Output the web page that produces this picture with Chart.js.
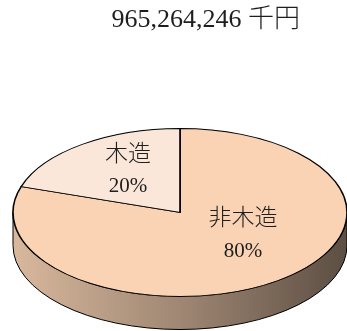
<!DOCTYPE html>
<html lang="ja">
<head>
<meta charset="utf-8">
<script src="https://cdn.jsdelivr.net/npm/chart.js@4.4.1/dist/chart.umd.min.js"></script>
<style>
  html, body { margin: 0; padding: 0; background: #fff; }
  #wrap { width: 347px; height: 331px; position: relative; }
</style>
</head>
<body>
<div id="wrap"><canvas id="structureChart"></canvas></div>
<script>
// share of floor value by structure type (%)
const categories = ['非木造', '木造'];
const shares = [80, 20];
const sliceColors = ['#f9d3b4', '#fbe7d9'];
const totalAmount = 965264246;
const amountUnit = '千円';

const serifFont = "'Liberation Serif', 'Noto Sans CJK JP', serif";

// fake 3D: squash the pie into an ellipse and draw the front rim under it
function shade(hex, k) {
    const n = parseInt(hex.slice(1), 16);
    const r = Math.round(((n >> 16) & 255) * k);
    const g = Math.round(((n >> 8) & 255) * k);
    const b = Math.round((n & 255) * k);
    return 'rgb(' + r + ',' + g + ',' + b + ')';
}

const pie3d = {
    id: 'pie3d',
    beforeDatasetsDraw(chart, args, opts) {
        const ctx = chart.ctx;
        const arcs = chart.getDatasetMeta(0).data;
        const r = arcs[0].outerRadius;
        const ry = r * opts.tilt;
        const cx = opts.centerX, cy = opts.centerY;

        // rim, only the part facing the viewer (angles 0..PI)
        arcs.forEach(function(arc, i) {
            for (let k = -1; k <= 1; k++) {
                const lo = Math.max(arc.startAngle + k * 2 * Math.PI, 0);
                const hi = Math.min(arc.endAngle + k * 2 * Math.PI, Math.PI);
                if (hi <= lo) continue;
                const col = sliceColors[i];
                const grad = ctx.createLinearGradient(cx - r, 0, cx + r, 0);
                grad.addColorStop(0, shade(col, 0.87));
                grad.addColorStop(0.5, shade(col, 0.64));
                grad.addColorStop(1, shade(col, 0.37));
                ctx.save();
                ctx.beginPath();
                ctx.ellipse(cx, cy, r, ry, 0, lo, hi, false);
                ctx.ellipse(cx, cy + opts.depth, r, ry, 0, hi, lo, true);
                ctx.closePath();
                ctx.fillStyle = grad;
                ctx.fill();
                ctx.lineWidth = 1;
                ctx.strokeStyle = '#000';
                ctx.stroke();
                ctx.restore();
            }
        });

        // top face
        ctx.save();
        ctx.translate(cx, cy);
        ctx.scale(1, opts.tilt);
        ctx.translate(-arcs[0].x, -arcs[0].y);
    },
    afterDatasetsDraw(chart, args, opts) {
        const ctx = chart.ctx;
        ctx.restore();

        const arcs = chart.getDatasetMeta(0).data;
        const values = chart.data.datasets[0].data;
        const sum = values.reduce(function(a, b) { return a + b; }, 0);
        ctx.save();
        ctx.fillStyle = '#1e1e1e';
        ctx.textAlign = 'center';
        ctx.textBaseline = 'middle';
        arcs.forEach(function(arc, i) {
            const mid = (arc.startAngle + arc.endAngle) / 2;
            const r = arc.outerRadius * opts.labelRadius;
            const x = opts.centerX + Math.cos(mid) * r + opts.labelShift[i][0];
            const y = opts.centerY + Math.sin(mid) * r * opts.tilt + opts.labelShift[i][1];
            ctx.font = '300 23px ' + serifFont;
            ctx.fillText(chart.data.labels[i], x, y - 16);
            ctx.font = '21px ' + serifFont;
            ctx.fillText(Math.round(values[i] / sum * 100) + '%', x, y + 16);
        });
        ctx.restore();
    }
};

new Chart(document.getElementById('structureChart'), {
    type: 'pie',
    data: {
        labels: categories,
        datasets: [{
            data: shares,
            backgroundColor: sliceColors,
            borderColor: '#000',
            borderWidth: 1.6,
            borderJoinStyle: 'miter',
            radius: 167,
            clip: false
        }]
    },
    plugins: [pie3d],
    options: {
        responsive: true,
        maintainAspectRatio: false,
        animation: false,
        events: [],
        layout: {
            padding: { top: 5, right: 47 }
        },
        plugins: {
            legend: { display: false },
            tooltip: { enabled: false },
            title: {
                display: true,
                text: totalAmount.toLocaleString('en-US') + ' ' + amountUnit,
                align: 'end',
                color: '#1e1e1e',
                font: { family: serifFont, size: 26, weight: 300 },
                padding: { top: 0, bottom: 0 }
            },
            pie3d: {
                centerX: 180,
                centerY: 212.5,
                tilt: 0.503,
                depth: 33,
                labelRadius: 0.6,
                labelShift: [[4, -18], [7, -1]]
            }
        }
    }
});
</script>
</body>
</html>
